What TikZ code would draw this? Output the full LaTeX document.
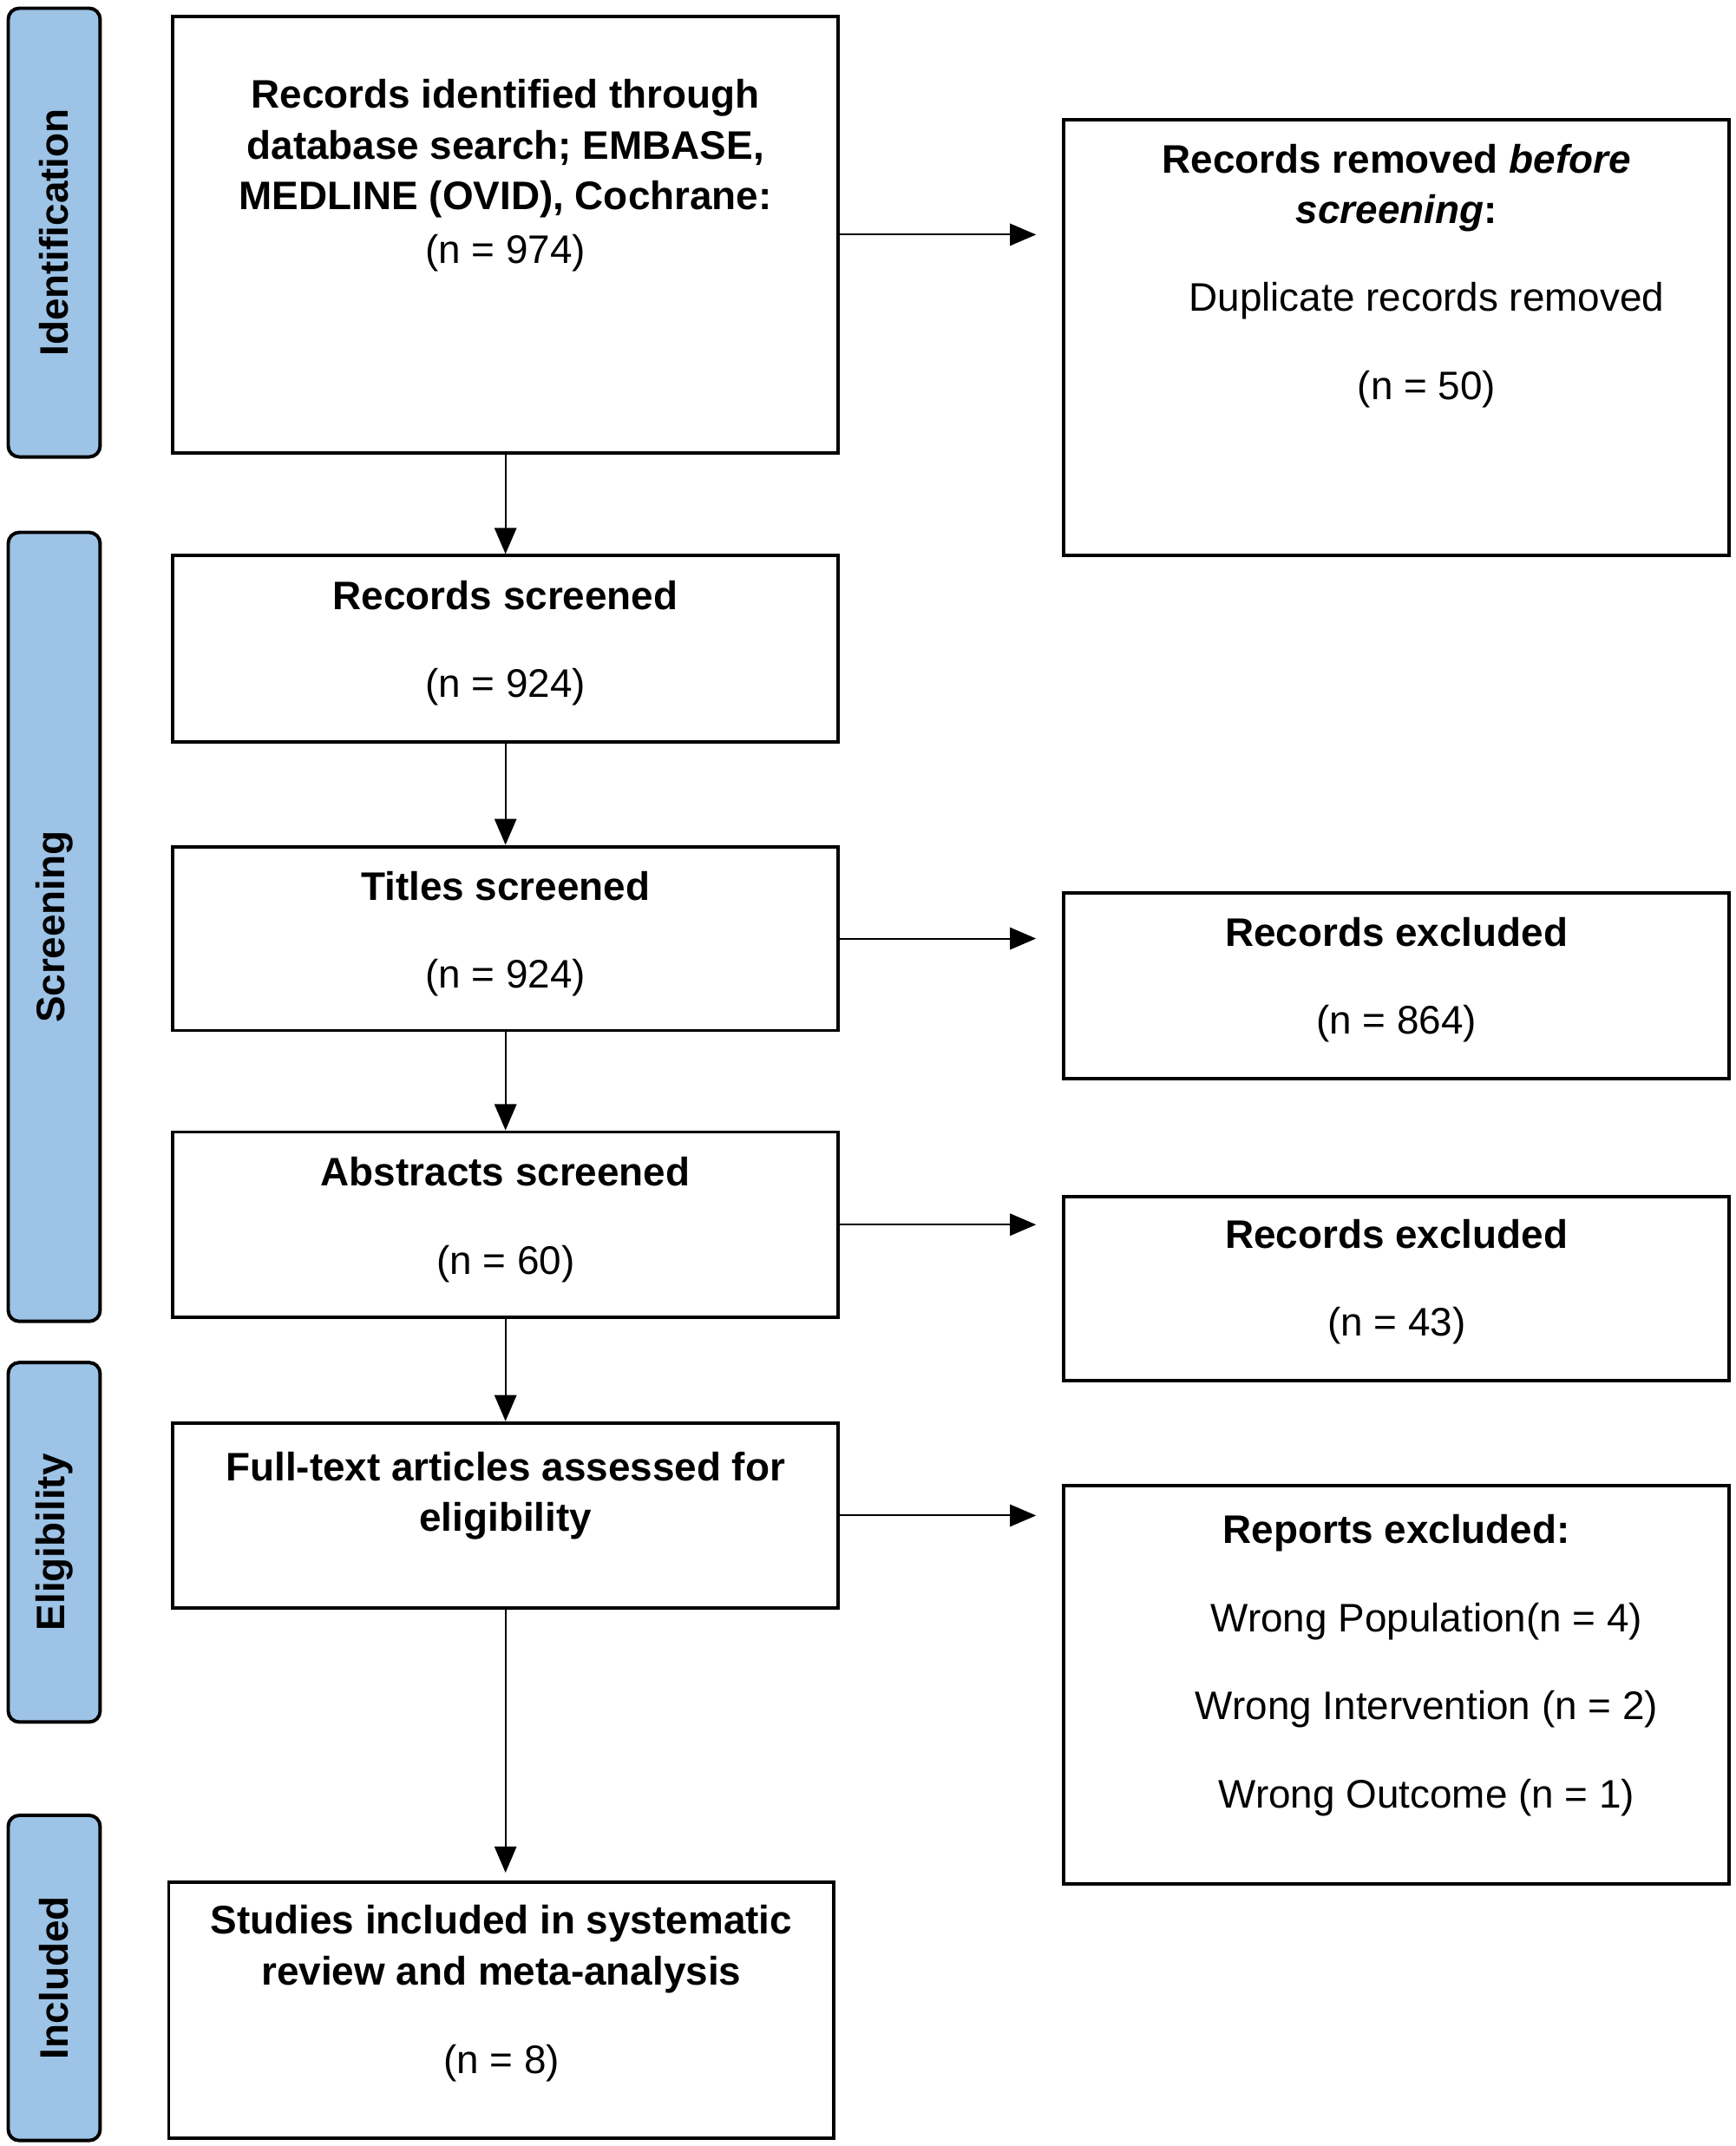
\documentclass[tikz,border=0pt]{standalone}
\usepackage{fontspec}
\setmainfont{Liberation Sans}
\usetikzlibrary{arrows.meta}

\definecolor{bandblue}{HTML}{9DC3E6}

\tikzset{
	box/.style={draw, line width=2.5pt, inner sep=0pt, minimum width=485pt},
	txt/.style={align=center, inner sep=0pt, font=\fontsize{29}{37}\selectfont},
	band/.style={draw, line width=2.5pt, rounded corners=8pt, fill=bandblue, minimum height=67pt, inner sep=0pt, font=\fontsize{29}{35}\selectfont\bfseries},
	arr/.style={line width=1.3pt, -{Triangle[length=19pt, width=16pt]}}
}

\begin{document}
\begin{tikzpicture}[x=1pt, y=-1pt]
		\useasboundingbox (0,0) rectangle (1265,1564);
		% phase bands
		\foreach \name/\c/\h in {Identification/169.5/327, Screening/675.5/575, Eligibility/1124/262, Included/1441.5/237}
			\node[band, rotate=90, minimum width=\h pt] (\name) at (39.5,\c) {\name};
		% left column
		\node[box, minimum height=318pt, label={[txt, below=47pt]north:{\textbf{Records identified through}\\\textbf{database search; EMBASE,}\\\textbf{MEDLINE (OVID), Cochrane:}\\[2pt](n = 974)}}] (found) at (368.5,171) {};
		\node[box, minimum height=136pt, label={[txt, below=19.5pt]north:{\textbf{Records screened}\\[27pt](n = 924)}}] (screened) at (368.5,473) {};
		\node[box, minimum height=134pt, label={[txt, below=19pt]north:{\textbf{Titles screened}\\[27pt](n = 924)}}] (titles) at (368.5,684) {};
		\node[box, minimum height=135pt, label={[txt, below=19.5pt]north:{\textbf{Abstracts screened}\\[27pt](n = 60)}}] (abstracts) at (368.5,892.5) {};
		\node[box, minimum height=135pt, label={[txt, below=22pt]north:{\textbf{Full-text articles assessed for}\\\textbf{eligibility}}}] (fulltext) at (368.5,1104.5) {};
		\node[box, minimum height=186pt, label={[txt, below=17.5pt]north:{\textbf{Studies included in systematic}\\\textbf{review and meta-analysis}\\[28pt](n = 8)}}] (included) at (365.5,1465) {};
		% right column
		\node[box, minimum height=318pt, label={[txt, below=19pt]north:{\textbf{Records removed \textit{before}}\\\textbf{\textit{screening}:}\\[27pt]\hspace*{44pt}Duplicate records removed\\[27pt]\hspace*{44pt}(n = 50)}}] (removed) at (1018,246) {};
		\node[box, minimum height=135pt, label={[txt, below=18.5pt]north:{\textbf{Records excluded}\\[27pt](n = 864)}}] (excl1) at (1018,718.5) {};
		\node[box, minimum height=134pt, label={[txt, below=17.5pt]north:{\textbf{Records excluded}\\[27pt](n = 43)}}] (excl2) at (1018,939) {};
		\node[box, minimum height=290pt, label={[txt, below=22pt]north:{\textbf{Reports excluded:}\\[27pt]\hspace*{44pt}Wrong Population(n = 4)\\[27pt]\hspace*{44pt}Wrong Intervention (n = 2)\\[28pt]\hspace*{44pt}Wrong Outcome (n = 1)}}] (reports) at (1018,1228) {};
		% arrows
		\draw[arr] (found) -- (screened);
		\draw[arr] (screened) -- (titles);
		\draw[arr] (titles) -- (abstracts);
		\draw[arr] (abstracts) -- (fulltext);
		\draw[arr, shorten >=6pt] (fulltext) -- (fulltext |- included.north);
		\draw[arr, shorten >=19pt] (found) -- (found -| removed.west);
		\draw[arr, shorten >=19pt] (titles) -- (titles -| excl1.west);
		\draw[arr, shorten >=19pt] (abstracts) -- (abstracts -| excl2.west);
		\draw[arr, shorten >=19pt] (fulltext) -- (fulltext -| reports.west);
	\end{tikzpicture}
\end{document}
